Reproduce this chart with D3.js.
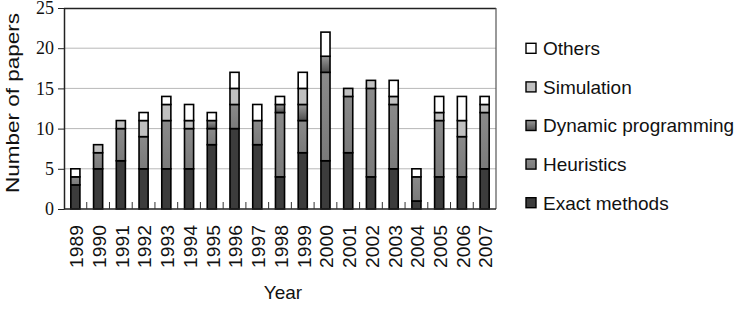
<!DOCTYPE html>
<html><head><meta charset="utf-8">
<script src="https://cdn.jsdelivr.net/npm/d3@7"></script>
<style>body{margin:0;background:#fff}svg{display:block}</style>
</head><body>
<svg id="c" width="742" height="318"></svg>
<script>
const years = ["1989","1990","1991","1992","1993","1994","1995","1996","1997","1998","1999","2000","2001","2002","2003","2004","2005","2006","2007"];
const exactMethods = [3,5,6,5,5,5,8,10,8,4,7,6,7,4,5,1,4,4,5];
const heuristics   = [1,2,4,4,6,5,2,3,3,8,4,11,7,11,8,3,7,5,7];
const dynamicProg  = [0,0,0,0,0,0,1,0,0,1,2,2,0,0,0,0,0,0,0];
const simulation   = [0,1,1,2,2,1,0,2,0,0,2,0,1,1,1,0,1,2,1];
const others       = [1,0,0,1,1,2,1,2,2,1,2,3,0,0,2,1,2,3,1];
const seriesNames = ["Exact methods","Heuristics","Dynamic programming","Simulation","Others"];
const yTicks = [0,5,10,15,20,25];

const svg = d3.select("#c");
const defs = svg.append("defs");
const g1 = defs.append("linearGradient").attr("id","dpg").attr("x1",0).attr("y1",0).attr("x2",0).attr("y2",1);
g1.append("stop").attr("offset","0%").attr("stop-color","#9a9a9a");
g1.append("stop").attr("offset","100%").attr("stop-color","#4e4e4e");
const g2 = defs.append("linearGradient").attr("id","hg").attr("x1",0).attr("y1",0).attr("x2",0).attr("y2",1);
g2.append("stop").attr("offset","0%").attr("stop-color","#8a8a8a");
g2.append("stop").attr("offset","100%").attr("stop-color","#7a7a7a");
const fills = ["#3c3c3c","url(#hg)","url(#dpg)","#c0c0c0","#ffffff"];

const L = 64, R = 496, T = 8, B = 209;
const x = d3.scaleBand().domain(years).range([L, R]).paddingInner(0.6).paddingOuter(0.3);
const xb = d3.scaleBand().domain(years).range([L, R]);
const y = d3.scaleLinear().domain([0,25]).range([B, T]);

// gridlines
svg.append("g").selectAll("line").data(yTicks.filter(d=>d>0 && d<25)).join("line")
  .attr("x1",L).attr("x2",R).attr("y1",d=>y(d)).attr("y2",d=>y(d))
  .attr("stroke","#b8b8b8").attr("stroke-width",1);
// plot border top/right
svg.append("line").attr("x1",L).attr("x2",R).attr("y1",T+0.5).attr("y2",T+0.5).attr("stroke","#222").attr("stroke-width",1.5);
svg.append("line").attr("x1",R).attr("x2",R).attr("y1",T).attr("y2",B).attr("stroke","#555").attr("stroke-width",1.2);

const rows = years.map((yr,i)=>({year:yr,"Exact methods":exactMethods[i],"Heuristics":heuristics[i],"Dynamic programming":dynamicProg[i],"Simulation":simulation[i],"Others":others[i]}));
const stack = d3.stack().keys(seriesNames)(rows);

svg.append("g").selectAll("g").data(stack).join("g")
  .attr("fill",(d,i)=>fills[i])
  .selectAll("rect").data(d=>d.filter(s=>s[1]-s[0]>0)).join("rect")
  .attr("x",d=>x(d.data.year)).attr("width",x.bandwidth())
  .attr("y",d=>y(d[1])).attr("height",d=>y(d[0])-y(d[1]))
  .attr("stroke","#000").attr("stroke-width",1.6);

// x axis
const xAxis = svg.append("g").attr("transform",`translate(0,${B})`);
xAxis.append("line").attr("x1",L).attr("x2",R).attr("stroke","#222").attr("stroke-width",1.5);
xAxis.selectAll("line.t").data(years.slice(1)).join("line").attr("class","t")
  .attr("x1",d=>xb(d)).attr("x2",d=>xb(d)).attr("y1",0).attr("y2",-7).attr("stroke","#333").attr("stroke-width",1);
xAxis.selectAll("text").data(years).join("text")
  .attr("transform",d=>`translate(${xb(d)+xb.bandwidth()/2+1},16) rotate(-90)`)
  .attr("dy","0.36em").attr("text-anchor","end")
  .attr("font-family","Liberation Sans, Arial, sans-serif").attr("font-size",19).attr("fill","#111")
  .attr("textLength",43).attr("lengthAdjust","spacingAndGlyphs")
  .text(d=>d);

// y axis
const yAxis = svg.append("g").attr("transform",`translate(${L},0)`)
  .call(d3.axisLeft(y).tickValues(yTicks).tickSize(6).tickSizeOuter(0));
yAxis.select(".domain").attr("stroke","#222").attr("stroke-width",1.5);
yAxis.selectAll(".tick line").attr("stroke","#222");
yAxis.selectAll(".tick text").attr("font-family","Liberation Serif, Times New Roman, serif").attr("font-size",18).attr("fill","#111").attr("x",-10);

// axis titles
svg.append("text").attr("transform",`translate(12,103) rotate(-90)`).attr("dy","0.36em").attr("text-anchor","middle")
  .attr("font-family","Liberation Sans, Arial, sans-serif").attr("font-size",19).attr("fill","#111")
  .attr("textLength",180).attr("lengthAdjust","spacingAndGlyphs").text("Number of papers");
svg.append("text").attr("x",283).attr("y",299).attr("text-anchor","middle")
  .attr("font-family","Liberation Sans, Arial, sans-serif").attr("font-size",19).attr("fill","#111").text("Year");

// legend
const legendOrder = ["Others","Simulation","Dynamic programming","Heuristics","Exact methods"];
const lg = svg.append("g").selectAll("g").data(legendOrder).join("g")
  .attr("transform",(d,i)=>`translate(526,${48.3+i*38.6})`);
lg.append("rect").attr("x",0).attr("y",-5).attr("width",10).attr("height",10)
  .attr("fill",d=>fills[seriesNames.indexOf(d)]).attr("stroke","#000").attr("stroke-width",1.4);
lg.append("text").attr("x",17).attr("dy","0.36em")
  .attr("font-family","Liberation Sans, Arial, sans-serif").attr("font-size",19).attr("fill","#111").text(d=>d);
</script>
</body></html>
